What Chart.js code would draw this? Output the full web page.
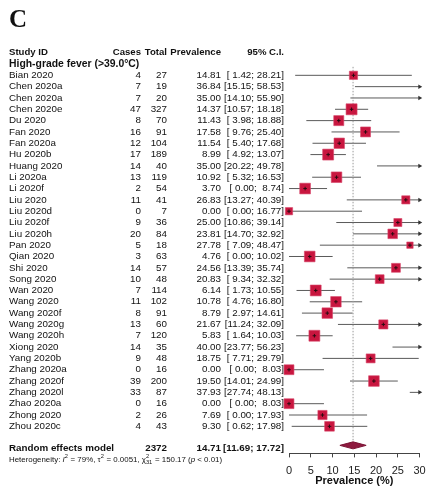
<!DOCTYPE html>
<html>
<head>
<meta charset="utf-8">
<title>High-grade fever prevalence</title>
<script src="https://cdn.jsdelivr.net/npm/chart.js@4/dist/chart.umd.min.js"></script>
<style>
    html, body { margin: 0; padding: 0; background: #fff; }
    #wrap { position: relative; width: 428px; height: 487px; }
</style>
</head>
<body>
<div id="wrap"><canvas id="forest" width="428" height="487"></canvas></div>
<script>
// Study data
const studies = ['Bian 2020', 'Chen 2020a', 'Chen 2020a', 'Chen 2020e', 'Du 2020', 'Fan 2020', 'Fan 2020a', 'Hu 2020b',
    'Huang 2020', 'Li 2020a', 'Li 2020f', 'Liu 2020', 'Liu 2020d', 'Liu 2020f', 'Liu 2020h', 'Pan 2020', 'Qian 2020',
    'Shi 2020', 'Song 2020', 'Wan 2020', 'Wang 2020', 'Wang 2020f', 'Wang 2020g', 'Wang 2020h', 'Xiong 2020',
    'Yang 2020b', 'Zhang 2020a', 'Zhang 2020f', 'Zhang 2020l', 'Zhao 2020a', 'Zhong 2020', 'Zhou 2020c'];
const cases = [4, 7, 7, 47, 8, 16, 12, 17, 14, 13, 2, 11, 0, 9, 20, 5, 3, 14, 10, 7, 11, 8, 13, 7, 14, 9, 0, 39, 33, 0, 2, 4];
const totals = [27, 19, 20, 327, 70, 91, 104, 189, 40, 119, 54, 41, 7, 36, 84, 18, 63, 57, 48, 114, 102, 91, 60, 120,
    35, 48, 16, 200, 87, 16, 26, 43];
const prevalence = [14.81, 36.84, 35.00, 14.37, 11.43, 17.58, 11.54, 8.99, 35.00, 10.92, 3.70, 26.83, 0.00, 25.00,
    23.81, 27.78, 4.76, 24.56, 20.83, 6.14, 10.78, 8.79, 21.67, 5.83, 40.00, 18.75, 0.00, 19.50, 37.93, 0.00, 7.69, 9.30];
const lower = [1.42, 15.15, 14.10, 10.57, 3.98, 9.76, 5.40, 4.92, 20.22, 5.32, 0.00, 13.27, 0.00, 10.86, 14.70, 7.09,
    0.00, 13.39, 9.34, 1.73, 4.76, 2.97, 11.24, 1.64, 23.77, 7.71, 0.00, 14.01, 27.74, 0.00, 0.00, 0.62];
const upper = [28.21, 58.53, 55.90, 18.18, 18.88, 25.40, 17.68, 13.07, 49.78, 16.53, 8.74, 40.39, 16.77, 39.14, 32.92,
    48.47, 10.02, 35.74, 32.32, 10.55, 16.80, 14.61, 32.09, 10.03, 56.23, 29.79, 8.03, 24.99, 48.13, 8.03, 17.93, 17.98];

// Random effects summary
const pooledTotal = 2372;
const pooled = 14.71;
const pooledLower = 11.69;
const pooledUpper = 17.72;
const tau2 = 0.0051;

const xTicks = [0, 5, 10, 15, 20, 25, 30];
const xMin = 0, xMax = 30;

const pooledRow = studies.length + 0.68;

// square side ~ sqrt of random-effects weight
const tau2pct = tau2 * 100 * 100;
const weights = prevalence.map((p, i) => {
    const se = (upper[i] - p) / 1.96;
    return 1 / (se * se + tau2pct);
});
const wMax = Math.max(...weights);
const MAX_SIDE = 11;
const squareRadius = weights.map(w => MAX_SIDE * Math.sqrt(w / wMax) / Math.SQRT2);

const fmt = v => v.toFixed(2);
const pad = v => fmt(v).padStart(5, ' ');
const ciText = (lo, hi) => '[' + pad(lo) + '; ' + pad(hi) + ']';

const FONT = "'Liberation Sans', Arial, Helvetica, sans-serif";
const COL_STUDY = 9, COL_CASES = 141, COL_TOTAL = 167, COL_PREV = 221, COL_CI = 284;
const AXIS_HEIGHT = 33.6;

Chart.defaults.font.family = FONT;

// CI segments, clipped at the axis end with an arrow
const ciDatasets = studies.map((s, i) => {
    const hi = Math.min(upper[i], xMax);
    const arrow = upper[i] > xMax;
    return {
        type: 'scatter',
        label: s,
        data: [{ x: lower[i], y: i }, { x: hi, y: i }],
        showLine: true,
        borderColor: '#5a5a5a',
        borderWidth: 1,
        pointRadius: [0, arrow ? 2.6 : 0],
        pointStyle: 'triangle',
        rotation: 90,
        pointBackgroundColor: '#333',
        pointBorderColor: '#333',
        pointBorderWidth: 0,
        clip: false
    };
});

const shown = prevalence.map((p, i) => ({ p, i })).filter(d => d.p <= xMax);

const datasets = [
    {
        // tiny cross marking each estimate
        label: 'estimate',
        data: shown.map(d => ({ x: d.p, y: d.i })),
        pointStyle: 'cross',
        pointRadius: 1.8,
        borderColor: '#2a0a10',
        borderWidth: 1,
        clip: false
    },
    {
        label: 'weight',
        data: shown.map(d => ({ x: d.p, y: d.i })),
        pointStyle: 'rect',
        pointRadius: shown.map(d => squareRadius[d.i]),
        backgroundColor: '#c8163f',
        borderColor: '#d9466a',
        borderWidth: 0.6,
        clip: false
    },
    {
        label: 'Random effects model',
        data: [
            { x: pooledLower, y: pooledRow },
            { x: pooled, y: pooledRow - 0.31 },
            { x: pooledUpper, y: pooledRow },
            { x: pooled, y: pooledRow + 0.31 },
            { x: pooledLower, y: pooledRow }
        ],
        showLine: true,
        fill: 'shape',
        backgroundColor: '#8e1a3f',
        borderColor: '#7a1334',
        borderWidth: 1,
        pointRadius: 0,
        tension: 0,
        clip: false
    },
    {
        label: 'pooled line',
        data: [{ x: pooled, y: -0.75 }, { x: pooled, y: pooledRow - 0.31 }],
        showLine: true,
        borderColor: '#9a9a9a',
        borderWidth: 1,
        borderDash: [1.5, 1.5],
        pointRadius: 0,
        clip: false
    },
    ...ciDatasets
];

// Left-hand table, heterogeneity line and panel letter
const tablePlugin = {
    id: 'studyTable',
    afterDraw(chart) {
        const ctx = chart.ctx;
        const ys = chart.scales.y;
        ctx.save();
        ctx.fillStyle = '#111';
        ctx.textBaseline = 'middle';

        ctx.font = "bold 25px 'Liberation Serif', 'Times New Roman', serif";
        ctx.textAlign = 'left';
        ctx.fillText('C', 9, 21);

        const head = ys.getPixelForValue(-2);
        ctx.font = 'bold 9.6px ' + FONT;
        ctx.fillText('Study ID', COL_STUDY, head);
        ctx.textAlign = 'right';
        ctx.fillText('Cases', COL_CASES, head);
        ctx.fillText('Total', COL_TOTAL, head);
        ctx.fillText('Prevalence', COL_PREV, head);
        ctx.fillText('95% C.I.', COL_CI, head);

        ctx.textAlign = 'left';
        ctx.font = 'bold 10.4px ' + FONT;
        ctx.fillText('High-grade fever (>39.0\u00B0C)', COL_STUDY, ys.getPixelForValue(-1));

        ctx.font = '9.8px ' + FONT;
        studies.forEach((s, i) => {
            const y = ys.getPixelForValue(i);
            ctx.textAlign = 'left';
            ctx.fillText(s, COL_STUDY, y);
            ctx.textAlign = 'right';
            ctx.fillText(String(cases[i]), COL_CASES, y);
            ctx.fillText(String(totals[i]), COL_TOTAL, y);
            ctx.fillText(fmt(prevalence[i]), COL_PREV, y);
            ctx.fillText(ciText(lower[i], upper[i]), COL_CI, y);
        });

        const py = ys.getPixelForValue(pooledRow) + 3;
        ctx.font = 'bold 9.8px ' + FONT;
        ctx.textAlign = 'left';
        ctx.fillText('Random effects model', COL_STUDY, py);
        ctx.textAlign = 'right';
        ctx.fillText(String(pooledTotal), COL_TOTAL, py);
        ctx.fillText(fmt(pooled), COL_PREV, py);
        ctx.fillText(ciText(pooledLower, pooledUpper), COL_CI, py);

        // heterogeneity statistics
        const hy = py + 11;
        const base = 7.9;
        const parts = [
            { t: 'Heterogeneity: ' },
            { t: 'I', italic: true },
            { t: '2', sup: true },
            { t: ' = 79%, \u03C4' },
            { t: '2', sup: true },
            { t: ' = 0.0051, \u03C7' },
            { t: '2', sup: true, sub: '31' },
            { t: ' = 150.17 (' },
            { t: 'p', italic: true },
            { t: ' < 0.01)' }
        ];
        ctx.textAlign = 'left';
        let x = COL_STUDY;
        parts.forEach(pt => {
            if (pt.sup) {
                ctx.font = (base * 0.72) + 'px ' + FONT;
                ctx.fillText(pt.t, x, hy - 3);
                let w = ctx.measureText(pt.t).width;
                if (pt.sub) {
                    ctx.fillText(pt.sub, x, hy + 3);
                    w = Math.max(w, ctx.measureText(pt.sub).width);
                }
                x += w + 0.5;
            } else {
                ctx.font = (pt.italic ? 'italic ' : '') + base + 'px ' + FONT;
                ctx.fillText(pt.t, x, hy);
                x += ctx.measureText(pt.t).width;
            }
        });
        ctx.restore();
    }
};

new Chart(document.getElementById('forest'), {
    type: 'scatter',
    data: { datasets },
    options: {
        responsive: false,
        animation: false,
        layout: { padding: { left: 289, right: 7, top: 64, bottom: 0 } },
        plugins: { legend: { display: false }, tooltip: { enabled: false } },
        scales: {
            x: {
                type: 'linear',
                min: xMin,
                max: xMax,
                afterBuildTicks: axis => { axis.ticks = xTicks.map(v => ({ value: v })); },
                afterFit: axis => {
                    // keep the plot edges fixed: 0 at the left edge, 30 at the right
                    axis.paddingLeft = 0;
                    axis.paddingRight = 0;
                    axis.height = AXIS_HEIGHT;
                },
                ticks: { color: '#222', font: { size: 11 }, padding: 6.5 },
                grid: { display: true, drawOnChartArea: false, drawTicks: true, tickLength: 4, color: '#444' },
                border: { display: true, color: '#444', width: 1 },
                title: {
                    display: true, text: 'Prevalence (%)', color: '#111',
                    font: { size: 11, weight: 'bold', lineHeight: 1.1 }, padding: 0
                }
            },
            y: {
                type: 'linear',
                display: false,
                reverse: true,
                min: -1,
                max: 33.39
            }
        }
    },
    plugins: [tablePlugin]
});
</script>
</body>
</html>
